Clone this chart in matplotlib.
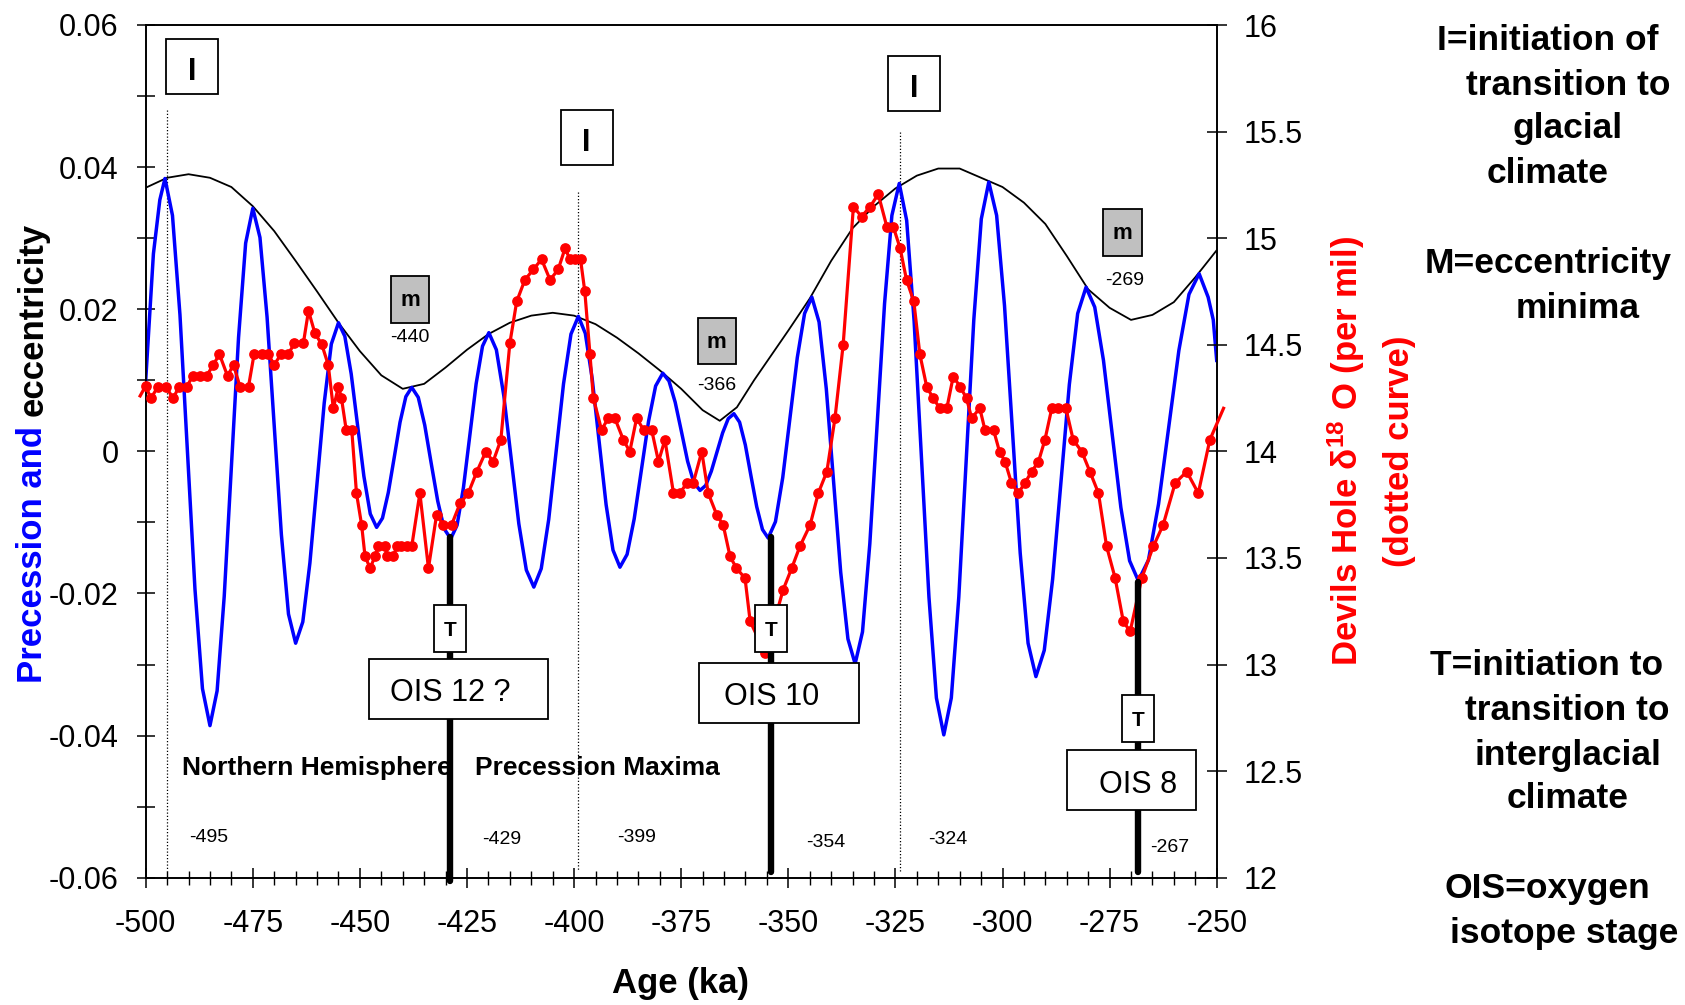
import matplotlib
matplotlib.use("Agg")
import matplotlib.pyplot as plt
from matplotlib.patches import Rectangle
from matplotlib.lines import Line2D
from matplotlib.ticker import MultipleLocator, FuncFormatter

plt.rcParams['font.family'] = ['Liberation Sans', 'DejaVu Sans']
plt.rcParams['mathtext.fontset'] = 'custom'
plt.rcParams['mathtext.rm'] = 'Liberation Sans'
plt.rcParams['mathtext.bf'] = 'Liberation Sans:bold'
plt.rcParams['mathtext.default'] = 'bf'
plt.rcParams['axes.unicode_minus'] = False

# ---------------- data ----------------
# Precession (blue), left axis
prec_age = [-500.0, -498.2, -496.7, -495.5,
            -493.75, -492.0, -490.25, -488.5, -486.75, -485.0,
            -483.33, -481.67, -480.0, -478.33, -476.67, -475.0,
            -473.33, -471.67, -470.0, -468.33, -466.67, -465.0,
            -463.33, -461.67, -460.0, -458.33, -456.67, -455.0,
            -453.52, -452.03, -450.55, -449.07, -447.58, -446.1,
            -444.73, -443.37, -442.0, -440.63, -439.27, -437.9,
            -436.38, -434.87, -433.35, -431.83, -430.32, -428.8,
            -427.32, -425.83, -424.35, -422.87, -421.38, -419.9,
            -418.15, -416.4, -414.65, -412.9, -411.15, -409.4,
            -407.67, -405.93, -404.2, -402.47, -400.73, -399.0,
            -397.38, -395.77, -394.15, -392.53, -390.92, -389.3,
            -387.63, -385.97, -384.3, -382.63, -380.97, -379.3,
            -377.85, -376.4, -374.95, -373.5, -372.05, -370.6,
            -369.28, -367.97, -366.65, -365.33, -364.02, -362.7,
            -361.37, -360.03, -358.7, -357.37, -356.03, -354.7,
            -353.0, -351.3, -349.6, -347.9, -346.2, -344.5,
            -342.82, -341.13, -339.45, -337.77, -336.08, -334.4,
            -332.68, -330.97, -329.25, -327.53, -325.82, -324.1,
            -322.37, -320.63, -318.9, -317.17, -315.43, -313.7,
            -311.95, -310.2, -308.45, -306.7, -304.95, -303.2,
            -301.37, -299.53, -297.7, -295.87, -294.03, -292.2,
            -290.25, -288.3, -286.35, -284.4, -282.45, -280.5,
            -278.47, -276.43, -274.4, -272.37, -270.33, -268.3,
            -265.93, -263.57, -261.2, -258.83, -256.47, -254.1,
            -252.0, -250.8, -250.0]
prec_val = [0.0100, 0.0278, 0.0354, 0.0384,
            0.0332, 0.0192, -0.0001, -0.0194, -0.0334, -0.0386,
            -0.0337, -0.0204, -0.0022, 0.0160, 0.0293, 0.0342,
            0.0301, 0.0189, 0.0036, -0.0117, -0.0229, -0.0270,
            -0.0240, -0.0157, -0.0045, 0.0068, 0.0151, 0.0181,
            0.0162, 0.0109, 0.0037, -0.0035, -0.0088, -0.0107,
            -0.0094, -0.0058, -0.0009, 0.0041, 0.0077, 0.0090,
            0.0076, 0.0037, -0.0017, -0.0070, -0.0109, -0.0123,
            -0.0104, -0.0051, 0.0022, 0.0095, 0.0148, 0.0167,
            0.0143, 0.0078, -0.0012, -0.0102, -0.0167, -0.0191,
            -0.0165, -0.0096, -0.0001, 0.0095, 0.0165, 0.0190,
            0.0166, 0.0102, 0.0014, -0.0075, -0.0139, -0.0163,
            -0.0145, -0.0095, -0.0027, 0.0042, 0.0092, 0.0110,
            0.0099, 0.0069, 0.0028, -0.0014, -0.0044, -0.0055,
            -0.0048, -0.0028, -0.0001, 0.0026, 0.0046, 0.0053,
            0.0041, 0.0009, -0.0035, -0.0078, -0.0110, -0.0122,
            -0.0099, -0.0037, 0.0048, 0.0132, 0.0194, 0.0217,
            0.0182, 0.0088, -0.0041, -0.0170, -0.0264, -0.0299,
            -0.0254, -0.0130, 0.0039, 0.0208, 0.0332, 0.0377,
            0.0325, 0.0183, -0.0011, -0.0205, -0.0347, -0.0399,
            -0.0347, -0.0205, -0.0010, 0.0185, 0.0327, 0.0379,
            0.0332, 0.0205, 0.0031, -0.0143, -0.0270, -0.0317,
            -0.0280, -0.0180, -0.0043, 0.0094, 0.0194, 0.0231,
            0.0203, 0.0128, 0.0025, -0.0079, -0.0154, -0.0182,
            -0.0153, -0.0074, 0.0034, 0.0142, 0.0221, 0.0250,
            0.0217, 0.0185, 0.0128]

# Eccentricity (black), left axis
ecc_age = [-500, -495, -490, -485, -480, -475, -470, -465, -460, -455, -450, -445, -440,
           -435, -430, -425, -420, -415, -410, -405, -400, -395, -390, -385, -380, -375,
           -370, -366, -362, -358, -354, -350, -345, -340, -335, -330, -325, -320, -315,
           -310, -305, -300, -295, -290, -285, -280, -275, -270, -265, -260, -255, -250]
ecc_val = [0.0371, 0.0385, 0.0390, 0.0385, 0.0372, 0.0345, 0.0310, 0.0268, 0.0225, 0.0181,
           0.0141, 0.0107, 0.0088, 0.0095, 0.0118, 0.0143, 0.0165, 0.0181, 0.0191, 0.0195,
           0.0191, 0.0179, 0.0160, 0.0138, 0.0114, 0.0088, 0.0058, 0.0043, 0.0062, 0.0100,
           0.0135, 0.0170, 0.0215, 0.0268, 0.0314, 0.0345, 0.0370, 0.0388, 0.0398, 0.0398,
           0.0385, 0.0372, 0.0350, 0.0320, 0.0275, 0.0228, 0.0202, 0.0185, 0.0192, 0.0210,
           0.0245, 0.0283]

# Devils Hole d18O (red), right axis (first and last points are line ends without markers)
dh_age = [-501.3, -500.0, -498.8, -497.1, -495.3, -493.6, -492.2, -490.4, -489.0, -487.3,
          -485.8, -484.2, -482.8, -480.9, -479.5, -478.0, -476.0, -474.7, -472.9, -471.4,
          -470.0, -468.4, -466.7, -465.3, -463.2, -462.0, -460.5, -458.9, -457.4, -456.2,
          -455.0, -454.3, -453.2, -451.9, -450.8, -449.6, -448.8, -447.6, -446.5, -445.7,
          -444.1, -443.6, -442.2, -441.4, -440.3, -439.1, -437.9, -436.0, -434.0, -432.1,
          -430.5, -428.6, -426.6, -424.7, -422.7, -420.6, -418.9, -417.1, -415.0, -413.4,
          -411.5, -409.5, -407.6, -405.6, -403.7, -402.1, -401.0, -399.8, -398.5, -397.5,
          -396.3, -395.5, -393.6, -392.0, -390.5, -388.5, -387.0, -385.4, -383.8, -381.9,
          -380.3, -378.8, -376.8, -375.3, -373.7, -372.2, -370.2, -368.7, -366.7, -365.2,
          -363.6, -362.1, -360.1, -358.9, -355.4, -353.3, -351.2, -349.2, -347.3, -344.9,
          -343.0, -341.0, -339.1, -337.2, -334.8, -332.9, -330.9, -329.0, -327.0, -325.5,
          -323.9, -322.4, -320.7, -319.3, -317.7, -316.2, -314.6, -313.0, -311.5, -309.9,
          -308.4, -307.2, -305.3, -304.1, -302.1, -300.7, -299.4, -297.9, -296.3, -294.8,
          -293.2, -291.6, -290.1, -288.5, -287.0, -285.2, -283.5, -281.5, -279.6, -277.6,
          -275.7, -273.7, -271.8, -270.2, -267.5, -264.8, -262.5, -259.7, -257.0, -254.3,
          -251.6, -248.4]
dh_val = [14.26, 14.307, 14.249, 14.304, 14.304, 14.249, 14.304, 14.304, 14.354, 14.354,
          14.354, 14.406, 14.456, 14.354, 14.406, 14.304, 14.304, 14.456, 14.456, 14.456,
          14.406, 14.456, 14.456, 14.507, 14.507, 14.659, 14.554, 14.502, 14.406, 14.202,
          14.304, 14.249, 14.101, 14.101, 13.804, 13.655, 13.507, 13.452, 13.507, 13.554,
          13.554, 13.507, 13.507, 13.554, 13.554, 13.554, 13.554, 13.804, 13.452, 13.702,
          13.655, 13.655, 13.757, 13.804, 13.905, 13.999, 13.952, 14.054, 14.507, 14.703,
          14.804, 14.854, 14.901, 14.804, 14.854, 14.953, 14.901, 14.901, 14.901, 14.750,
          14.456, 14.249, 14.101, 14.156, 14.156, 14.054, 13.999, 14.156, 14.101, 14.101,
          13.952, 14.054, 13.804, 13.804, 13.851, 13.851, 13.999, 13.804, 13.702, 13.655,
          13.507, 13.452, 13.405, 13.202, 13.054, 13.200, 13.351, 13.452, 13.554, 13.655,
          13.804, 13.905, 14.156, 14.499, 15.148, 15.101, 15.148, 15.206, 15.054, 15.054,
          14.953, 14.804, 14.703, 14.456, 14.304, 14.249, 14.202, 14.202, 14.351, 14.304,
          14.249, 14.156, 14.202, 14.101, 14.101, 13.999, 13.952, 13.851, 13.804, 13.851,
          13.905, 13.952, 14.054, 14.202, 14.202, 14.202, 14.054, 13.999, 13.905, 13.804,
          13.554, 13.405, 13.202, 13.155, 13.405, 13.554, 13.655, 13.851, 13.905, 13.804,
          14.054, 14.202]

x_ticks = [-500, -475, -450, -425, -400, -375, -350, -325, -300, -275, -250]

# annotations
I_ages = [-489.2, -397.1, -320.7]
I_vals = [0.0542, 0.0442, 0.0518]
init_lines = [-495, -399, -324]
init_tops = [0.048, 0.0365, 0.045]
init_labels = ["-495", "-399", "-324"]
init_label_pos = [(-485.2, -0.0543), (-385.4, -0.0543), (-312.7, -0.0546)]

m_ages = [-438.3, -366.7, -272.0]
m_vals = [0.0214, 0.0155, 0.0308]
m_labels = ["-440", "-366", "-269"]
m_label_pos = [(-438.3, 0.0160), (-366.7, 0.0093), (-271.4, 0.0241)]

T_ages = [-429.0, -354.0, -268.3]
T_tops = [-0.0121, -0.0121, -0.0184]
T_bottoms = [-0.0605, -0.0592, -0.0592]
T_box_vals = [-0.0249, -0.0249, -0.0376]
T_labels = ["-429", "-354", "-267"]
T_label_pos = [(-416.9, -0.0546), (-341.2, -0.0550), (-260.9, -0.0557)]

OIS_texts = ["OIS 12 ?", "OIS 10", "OIS 8"]
OIS_box_age = [-427.0, -352.1, -269.9]
OIS_box_val = [-0.0334, -0.0340, -0.0463]
OIS_box_wpx = [178.3, 160.0, 128.3]

# ---------------- figure ----------------
W, H = 1685, 1005
fig = plt.figure(figsize=(W / 100, H / 100), dpi=100)
fig.patch.set_facecolor('white')
ax = fig.add_axes([145.7 / W, 1 - 877.7 / H, 1071 / W, 852.7 / H])
ax2 = ax.twinx()

ax.set_xlim(-500, -250)
ax.set_ylim(-0.06, 0.06)
ax2.set_ylim(12, 16)
ax2.set_xlim(-500, -250)

KA_PX = 250 / 1071.0
VAL_PX = 0.12 / 852.7

# lines
ax.plot(ecc_age, ecc_val, color='black', lw=1.3, zorder=2)
ax.plot(prec_age, prec_val, color='#0000FF', lw=2.5, zorder=3, solid_joinstyle='round')
for a, top in zip(init_lines, init_tops):
    ax.plot([a, a], [top, -0.0590], color='black', lw=0.9, ls=(0, (1, 1.6)), zorder=1)

ax2.plot(dh_age, dh_val, color='#FF0000', lw=2.3, marker='o', ms=6.7,
         markevery=list(range(1, len(dh_age) - 1)), clip_on=False, zorder=4)

# ticks
ax.set_xticks(x_ticks)
ax.xaxis.set_minor_locator(MultipleLocator(5))
ax.yaxis.set_major_locator(MultipleLocator(0.02))
ax.yaxis.set_minor_locator(MultipleLocator(0.01))
ax.yaxis.set_major_formatter(FuncFormatter(lambda v, p: "0" if abs(v) < 1e-9 else f"{v:.2f}"))
ax.xaxis.set_major_formatter(FuncFormatter(lambda v, p: f"{v:.0f}"))
ax2.yaxis.set_major_locator(MultipleLocator(0.5))
ax2.yaxis.set_major_formatter(FuncFormatter(lambda v, p: f"{v:g}"))

ax.tick_params(axis='x', which='major', direction='inout', length=14.4, width=1.1,
               labelsize=22, pad=15.5)
ax.tick_params(axis='x', which='minor', direction='inout', length=10, width=1.0)
ax.tick_params(axis='y', which='both', direction='inout', length=13, width=1.1,
               labelsize=22, pad=13)
ax2.tick_params(axis='y', which='major', direction='inout', length=14.4, width=1.1,
                labelsize=22, pad=12)
ax2.tick_params(axis='x', which='both', bottom=False, top=False, labelbottom=False)
for sp in list(ax.spines.values()) + list(ax2.spines.values()):
    sp.set_linewidth(1.2)


def box(cx, cy, wpx, hpx, text, fc, fs, weight, base_off_px, text_cx=None):
    w = wpx * KA_PX
    h = hpx * VAL_PX
    r = Rectangle((cx - w / 2, cy - h / 2), w, h, transform=ax.transData,
                  facecolor=fc, edgecolor='black', lw=1.3, zorder=6, clip_on=False)
    ax2.add_patch(r)
    tx = cx if text_cx is None else text_cx
    ax2.text(tx, cy - base_off_px * VAL_PX, text, transform=ax.transData,
             ha='center', va='baseline', fontsize=fs, fontweight=weight,
             color='black', zorder=7)


# T lines
for a, t, b in zip(T_ages, T_tops, T_bottoms):
    ax2.add_line(Line2D([a, a], [t, b], transform=ax.transData, color='black', lw=4.6,
                        solid_capstyle='round', clip_on=False, zorder=5))

for a, v in zip(I_ages, I_vals):
    box(a, v, 52, 55, "I", 'white', 22, 'bold', 13.8)
for a, v in zip(m_ages, m_vals):
    box(a, v, 38.5, 46.5, "m", '#C0C0C0', 16, 'bold', 7)
for a, v in zip(T_ages, T_box_vals):
    box(a, v, 31.7, 46.7, "T", 'white', 15, 'bold', 7.3)
for s, a, v, wpx, ta in zip(OIS_texts, OIS_box_age, OIS_box_val, OIS_box_wpx, T_ages):
    box(a, v, wpx, 60, s, 'white', 22, 'normal', 12.5, text_cx=ta)

for s, (a, v) in zip(m_labels + init_labels + T_labels, m_label_pos + init_label_pos + T_label_pos):
    ax2.text(a, v, s, transform=ax.transData, ha='center', va='center', fontsize=14,
             color='black', zorder=7)

ax2.text(-491.6, -0.0456, "Northern Hemisphere", transform=ax.transData, ha='left',
         va='baseline', fontsize=19, fontweight='bold', zorder=7)
ax2.text(-423.1, -0.0456, "Precession Maxima", transform=ax.transData, ha='left',
         va='baseline', fontsize=19, fontweight='bold', zorder=7)

# axis labels
fig.text(680 / W, 1 - 983 / H, "Age (ka)", ha='center', va='center', fontsize=25,
         fontweight='bold')
t1 = fig.text(33 / W, 1 - 683 / H, "Precession and ", rotation=90, ha='center', va='bottom',
              fontsize=25, fontweight='bold', color='#0000FF')
fig.add_artist(plt.Annotation("eccentricity", xy=(0.5, 1.0), xycoords=t1, rotation=90,
                              ha='center', va='bottom', fontsize=25, fontweight='bold',
                              color='black'))

fig.text(1346 / W, 1 - 451 / H, "Devils Hole \u03b4$^{18}$ O (per mil)", rotation=90,
         ha='center', va='center', fontsize=25, fontweight='bold', color='#FF0000')
fig.text(1399 / W, 1 - 451 / H, "(dotted curve)", rotation=90, ha='center', va='center',
         fontsize=25, fontweight='bold', color='#FF0000')

# right-side legend text
legend_lines = [
    ("I=initiation of", 1548, 50), ("transition to", 1568, 95), ("glacial", 1568, 138),
    ("climate", 1548, 183), ("M=eccentricity", 1548, 273), ("minima", 1578, 318),
    ("T=initiation to", 1547, 675), ("transition to", 1567, 720),
    ("interglacial", 1568, 765), ("climate", 1568, 808), ("OIS=oxygen", 1547, 898),
    ("isotope stage", 1564, 943),
]
for s, xc, yb in legend_lines:
    fig.text(xc / W, 1 - yb / H, s, ha='center', va='baseline', fontsize=25.5,
             fontweight='bold', color='black')

fig.savefig("out.png", dpi=100, facecolor='white')
